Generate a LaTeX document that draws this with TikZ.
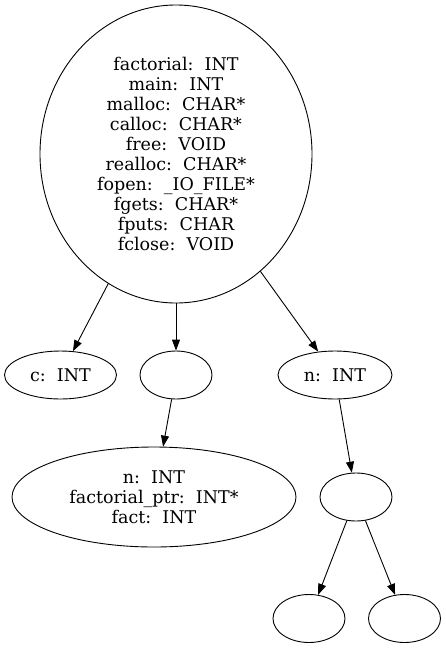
\documentclass[tikz,border=0pt]{standalone}
\usepackage{fontspec}
\setmainfont{DejaVu Serif}
\usetikzlibrary{shapes.geometric,arrows.meta}
\begin{document}
\begin{tikzpicture}[x=1pt,y=-1pt,
  nd/.style={draw,ellipse,inner sep=0pt,line width=0.9pt,align=center,
    font=\fontsize{17.5}{20}\selectfont},
  edge/.style={line width=0.9pt,-{Triangle[length=11pt,width=8pt]}}]
\useasboundingbox (0,0) rectangle (446,649);
\node[nd,minimum width=272pt,minimum height=298pt] (root) at (176,154)
 {factorial:~~INT\\main:~~INT\\malloc:~~CHAR*\\calloc:~~CHAR*\\free:~~VOID\\realloc:~~CHAR*\\fopen:~~\_IO\_FILE*\\fgets:~~CHAR*\\fputs:~~CHAR\\fclose:~~VOID};
\node[nd,minimum width=112pt,minimum height=48pt] (c) at (60.5,375) {c:~~INT};
\node[nd,minimum width=72pt,minimum height=48pt] (e1) at (176,375) {};
\node[nd,minimum width=114pt,minimum height=48pt] (n) at (335,375) {n:~~INT};
\node[nd,minimum width=284pt,minimum height=100pt] (big) at (154,497) {n:~~INT\\factorial\_ptr:~~INT*\\fact:~~INT};
\node[nd,minimum width=72pt,minimum height=48pt] (e2) at (356,497) {};
\node[nd,minimum width=72pt,minimum height=48pt] (e3) at (309,618.5) {};
\node[nd,minimum width=72pt,minimum height=48pt] (e4) at (404.5,618.5) {};
\draw[edge] (root) -- (c);
\draw[edge] (root) -- (e1);
\draw[edge] (root) -- (n);
\draw[edge] (e1) -- (big);
\draw[edge] (n) -- (e2);
\draw[edge] (e2) -- (e3);
\draw[edge] (e2) -- (e4);
\end{tikzpicture}
\end{document}
